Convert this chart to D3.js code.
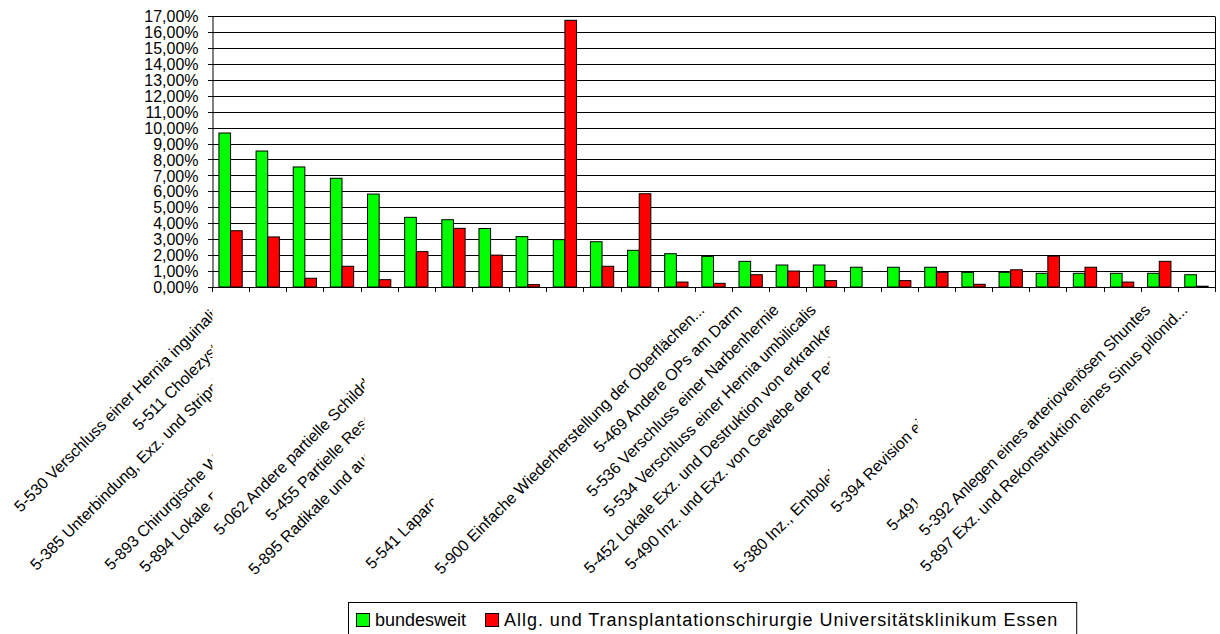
<!DOCTYPE html>
<html><head><meta charset="utf-8">
<script src="https://cdn.jsdelivr.net/npm/d3@7"></script>
<style>
body{margin:0;background:#fff}
svg{display:block}
text{font-family:"Liberation Sans",Arial,sans-serif;fill:#000}
</style>
</head><body>
<svg id="c" width="1220" height="634"></svg>
<script>
// ---------- data ----------
const categories = [
  "5-530 Verschluss einer Hernia inguinalis",
  "5-511 Cholezystektomie",
  "5-385 Unterbindung, Exz. und Stripping von Varizen",
  "",
  "5-893 Chirurgische Wundtoilette [Wunddebridement] und Entfernung von erkranktem Gewebe",
  "5-894 Lokale Exzision von erkranktem Gewebe an Haut und Unterhaut",
  "5-062 Andere partielle Schilddrüsenresektion",
  "5-455 Partielle Resektion des Dickdarmes",
  "5-895 Radikale und ausgedehnte Exzision von erkranktem Gewebe an Haut und Unterhaut",
  "",
  "",
  "5-541 Laparotomie und Eröffnung des Retroperitoneums",
  "",
  "5-900 Einfache Wiederherstellung der Oberflächenkontinuität an Haut und Unterhaut",
  "5-469 Andere OPs am Darm",
  "5-536 Verschluss einer Narbenhernie",
  "5-534 Verschluss einer Hernia umbilicalis",
  "5-452 Lokale Exz. und Destruktion von erkranktem Gewebe des Dickdarmes",
  "5-490 Inz. und Exz. von Gewebe der Perianalregion",
  "",
  "",
  "5-380 Inz., Embolektomie und Thrombektomie von Blutgefäßen",
  "5-394 Revision einer Blutgefäßoperation",
  "",
  "5-491 Operative Behandlung von Analfisteln",
  "5-392 Anlegen eines arteriovenösen Shuntes",
  "5-897 Exz. und Rekonstruktion eines Sinus pilonidalis"
];
const bundesweit = [9.66, 8.53, 7.53, 6.82, 5.83, 4.37, 4.22, 3.67, 3.16, 2.97, 2.84, 2.30, 2.09, 1.92, 1.61, 1.38, 1.38, 1.24, 1.24, 1.24, 0.92, 0.92, 0.86, 0.86, 0.86, 0.86, 0.77];
const essen      = [3.53, 3.14, 0.55, 1.30, 0.46, 2.22, 3.68, 2.00, 0.15, 16.73, 1.30, 5.85, 0.31, 0.23, 0.77, 1.00, 0.40, 0.00, 0.40, 0.92, 0.17, 1.08, 1.94, 1.24, 0.31, 1.61, 0.05];
const seriesNames = ["bundesweit", "Allg. und Transplantationschirurgie Universitätsklinikum Essen"];
const seriesColors = ["#00ff00", "#ff0000"];
const yTicks = d3.range(0, 18); // percent

// ---------- label overlap layout (which label's box hides which) ----------
const labelOccluder = {0:6, 1:6, 2:6, 4:6, 5:6, 6:11, 7:11, 8:11, 11:13, 17:22, 18:22, 21:22, 22:25, 24:25};
const fadedLabels = new Set([6, 13, 22, 25]);

// ---------- chart ----------
const svg = d3.select("#c");
const m = {left: 212, right: 1215, top: 16, bottom: 287};
const n = categories.length;
const idx = d3.range(n);
const x = d3.scaleBand().domain(idx).range([m.left, m.right]).paddingInner(0.373).paddingOuter(0.1865);
const x1 = d3.scaleBand().domain([0, 1]).range([0, x.bandwidth()]);
const y = d3.scaleLinear().domain([0, 17]).range([m.bottom, m.top]);
const loc = d3.formatLocale({decimal: ",", thousands: ".", grouping: [3], currency: ["", "€"]});
const fmt = v => loc.format(".2f")(v) + "%";

// gridlines
svg.append("g").selectAll("line").data(yTicks).join("line")
  .attr("x1", m.left - 4).attr("x2", m.right)
  .attr("y1", d => Math.round(y(d)) + 0.5).attr("y2", d => Math.round(y(d)) + 0.5)
  .attr("stroke", "#000").attr("stroke-width", 1);

// right frame
svg.append("line").attr("x1", m.right + 0.5).attr("x2", m.right + 0.5)
  .attr("y1", Math.round(y(17)) + 0.5).attr("y2", Math.round(y(0)) + 0.5)
  .attr("stroke", "#000");

// y axis
const yAxis = d3.axisLeft(y).tickValues(yTicks).tickSize(0).tickPadding(14).tickFormat(fmt);
const ga = svg.append("g").attr("transform", `translate(${m.left + 0.5},0.5)`).call(yAxis);
ga.select(".domain").attr("stroke", "#000");
ga.selectAll("text").attr("font-size", 16).attr("font-family", '"Liberation Sans",Arial,sans-serif').attr("fill", "#000");

// x axis ticks at category boundaries
const step = x.step();
svg.append("g").selectAll("line").data(d3.range(n + 1)).join("line")
  .attr("x1", i => Math.round(m.left + i * step) + 0.5)
  .attr("x2", i => Math.round(m.left + i * step) + 0.5)
  .attr("y1", Math.round(y(0))).attr("y2", Math.round(y(0)) + 5)
  .attr("stroke", "#000");

// bars
const series = [bundesweit, essen];
const gb = svg.append("g");
series.forEach((vals, s) => {
  gb.append("g").selectAll("rect").data(idx.filter(i => vals[i] > 0)).join("rect")
    .attr("x", i => x(i) + x1(s))
    .attr("y", i => y(vals[i]))
    .attr("width", x1.bandwidth())
    .attr("height", i => y(0) - y(vals[i]))
    .attr("fill", seriesColors[s])
    .attr("stroke", "#000").attr("stroke-width", 1);
});

// category labels
const maxLen = 375;
const gl = svg.append("g");
const labelNodes = {};
idx.forEach(i => {
  if (!categories[i]) return;
  const wrap = gl.append("g");
  const t = wrap.append("text")
    .attr("transform", `translate(${x(i) + x.bandwidth() / 2 - 8},311) rotate(-45)`)
    .attr("text-anchor", "end").attr("font-size", 16)
    .attr("fill", fadedLabels.has(i) ? "#8f8f8f" : "#000")
    .text(categories[i]);
  let full = categories[i];
  if (t.node().getComputedTextLength() > maxLen) {
    while (full.length > 1) {
      full = full.slice(0, -1);
      t.text(full.trimEnd() + "...");
      if (t.node().getComputedTextLength() <= maxLen) break;
    }
  }
  labelNodes[i] = {wrap, t};
});
const defs = svg.append("defs");
const svgRect = svg.node().getBoundingClientRect();
Object.entries(labelOccluder).forEach(([i, j]) => {
  const occ = labelNodes[j].t.node().getBoundingClientRect();
  const cx = occ.left - svgRect.left + 2;
  const id = "clip" + i;
  defs.append("clipPath").attr("id", id).attr("clipPathUnits", "userSpaceOnUse")
    .append("rect").attr("x", 0).attr("y", 0).attr("width", cx).attr("height", 634);
  labelNodes[i].wrap.attr("clip-path", `url(#${id})`);
});

// legend
const lg = svg.append("g");
let cur = 0;
seriesNames.forEach((name, s) => {
  const it = lg.append("g");
  it.append("rect").attr("x", cur + 0.5).attr("y", 0.5).attr("width", 13).attr("height", 13)
    .attr("fill", seriesColors[s]).attr("stroke", "#000");
  const tx = it.append("text").attr("x", cur + 19).attr("y", 12.5).attr("font-size", 18)
    .attr("letter-spacing", s === 1 ? 0.95 : 0).text(name);
  cur += 19 + tx.node().getComputedTextLength() + 19;
});
const legW = cur - 19 + 14 + 12;
const legX = Math.round((m.left + m.right) / 2 - legW / 2);
lg.insert("rect", ":first-child").attr("x", -7.5).attr("y", -10.5).attr("width", legW).attr("height", 40)
  .attr("fill", "#fff").attr("stroke", "#000");
lg.attr("transform", `translate(${legX + 7},613)`);
</script>
</body></html>
